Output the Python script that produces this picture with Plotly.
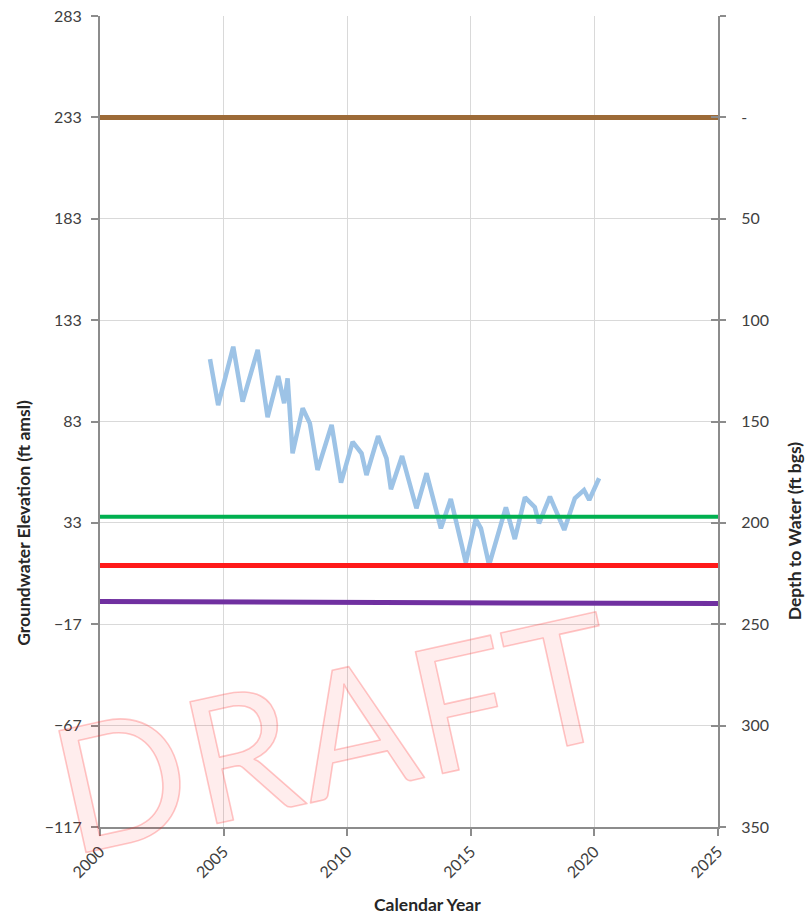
import plotly.graph_objects as go

# Groundwater elevation record (decimal year, ft amsl)
years = [2004.45, 2004.78, 2005.39, 2005.77, 2006.38, 2006.78, 2007.21, 2007.45, 2007.59, 2007.79,
         2008.20, 2008.49, 2008.80, 2009.37, 2009.75, 2010.22, 2010.58, 2010.78, 2011.25, 2011.59,
         2011.77, 2012.22, 2012.80, 2013.21, 2013.79, 2014.19, 2014.80, 2015.20, 2015.41, 2015.74,
         2016.42, 2016.78, 2017.19, 2017.59, 2017.76, 2018.20, 2018.78, 2019.21, 2019.58, 2019.79,
         2020.19]
elevation = [113.8, 91.1, 119.9, 92.8, 118.3, 85.1, 105.4, 92.0, 104.3, 67.3,
             89.5, 82.1, 59.1, 81.3, 52.8, 73.0, 67.3, 56.6, 75.8, 64.8,
             49.6, 66.0, 40.2, 57.5, 30.3, 44.8, 13.4, 34.8, 30.3, 12.2,
             40.7, 25.0, 45.6, 40.7, 32.8, 45.9, 29.5, 45.1, 49.2, 44.3,
             55.0]

# Reference levels as depth to water (ft bgs), at the start and end of the period
ref_years = [2000, 2025]
ground_surface_depth = [0, 0]
objective_depth = [197, 197]
threshold_depth = [221, 221]
well_bottom_depth = [238.8, 239.8]

ground_surface_elev = 233  # ft amsl

# Axis ticks
x_ticks = [2000, 2005, 2010, 2015, 2020, 2025]
elev_ticks = [-117, -67, -17, 33, 83, 133, 183, 233, 283]
depth_ticks = [-50, 0, 50, 100, 150, 200, 250, 300, 350]
depth_labels = ["", "-", "50", "100", "150", "200", "250", "300", "350"]

AXIS_GRAY = "#8C8C8C"
GRID_GRAY = "#D9D9D9"
TICK_FONT = dict(family="Lato, 'Open Sans', sans-serif", size=16, color="#404040")
TITLE_FONT = dict(family="Lato, 'Open Sans', sans-serif", size=17.5, color="#262626", weight="bold")

fig = go.Figure()

fig.add_trace(go.Scatter(x=years, y=elevation, mode="lines", yaxis="y",
                         line=dict(color="#9DC3E6", width=4.5), name="Groundwater Elevation",
                         hoverinfo="x+y"))

for depth, color, width, name in [
    (ground_surface_depth, "#9C6A37", 5, "Ground Surface"),
    (objective_depth, "#00B050", 4, "Measurable Objective"),
    (threshold_depth, "#FF1A1A", 5, "Minimum Threshold"),
    (well_bottom_depth, "#7030A0", 5, "Bottom of Well"),
]:
    fig.add_trace(go.Scatter(x=ref_years, y=depth, mode="lines", yaxis="y2",
                             line=dict(color=color, width=width), name=name))

# carrier for the inner half of the right-hand tick marks
fig.add_trace(go.Scatter(x=[], y=[], yaxis="y3", showlegend=False, hoverinfo="skip"))

depth_range = [ground_surface_elev - elev_ticks[0], ground_surface_elev - elev_ticks[-1]]

fig.update_layout(
    width=811, height=916,
    margin=dict(l=100, r=93, t=16, b=89, autoexpand=False),
    paper_bgcolor="white", plot_bgcolor="white",
    showlegend=False,
    xaxis=dict(range=[x_ticks[0], x_ticks[-1]], tickvals=x_ticks, tickangle=-45,
               showgrid=True, gridcolor=GRID_GRAY, gridwidth=1,
               showline=True, linecolor=AXIS_GRAY, linewidth=2,
               ticks="outside", ticklen=7, tickcolor=AXIS_GRAY, tickwidth=1.5,
               zeroline=False, tickfont=TICK_FONT, automargin=False),
    yaxis=dict(range=[elev_ticks[0], elev_ticks[-1]], tickvals=elev_ticks,
               showgrid=True, gridcolor=GRID_GRAY, gridwidth=1,
               showline=True, linecolor=AXIS_GRAY, linewidth=2,
               ticks="outside", ticklen=7, tickcolor=AXIS_GRAY, tickwidth=1.5,
               ticklabelstandoff=6, zeroline=False, tickfont=TICK_FONT, automargin=False),
    yaxis2=dict(overlaying="y", side="right", range=depth_range,
                tickvals=depth_ticks, ticktext=depth_labels,
                showgrid=False, showline=True, linecolor=AXIS_GRAY, linewidth=2,
                ticks="outside", ticklen=6, tickcolor=AXIS_GRAY, tickwidth=1.5,
                ticklabelstandoff=12, zeroline=False, tickfont=TICK_FONT, automargin=False),
    yaxis3=dict(overlaying="y", side="right", range=depth_range,
                tickvals=depth_ticks, showticklabels=False,
                showgrid=False, showline=False,
                ticks="inside", ticklen=7, tickcolor=AXIS_GRAY, tickwidth=1.5,
                zeroline=False, automargin=False),
    annotations=[
        dict(text="Groundwater Elevation (ft amsl)", textangle=-90,
             xref="paper", yref="paper", x=-0.123, y=0.375,
             xanchor="center", yanchor="middle", showarrow=False, font=TITLE_FONT),
        dict(text="Depth to Water (ft bgs)", textangle=-90,
             xref="paper", yref="paper", x=1.125, y=0.365,
             xanchor="center", yanchor="middle", showarrow=False, font=TITLE_FONT),
        dict(text="Calendar Year",
             xref="paper", yref="paper", x=0.53, y=-0.096,
             xanchor="center", yanchor="middle", showarrow=False, font=TITLE_FONT),
        dict(text="DRAFT", textangle=-12.5,
             xref="paper", yref="paper", x=0.378, y=0.122,
             xanchor="center", yanchor="middle", showarrow=False,
             font=dict(family="Lato, 'Open Sans', sans-serif", size=174,
                       color="rgba(255,0,0,0.07)")),
    ],
)

# outline the watermark lettering
outline_js = """
var gd = document.getElementById('{plot_id}');
function outlineDraft() {
  gd.querySelectorAll('.annotation-text').forEach(function (t) {
    if (t.textContent === 'DRAFT') {
      t.style.stroke = 'rgba(255,40,40,0.26)';
      t.style.strokeWidth = '1.6px';
      t.style.strokeLinejoin = 'round';
      t.style.letterSpacing = '2px';
    }
  });
}
outlineDraft();
gd.on('plotly_afterplot', outlineDraft);
"""

fig.write_html("out.html", post_script=outline_js)
